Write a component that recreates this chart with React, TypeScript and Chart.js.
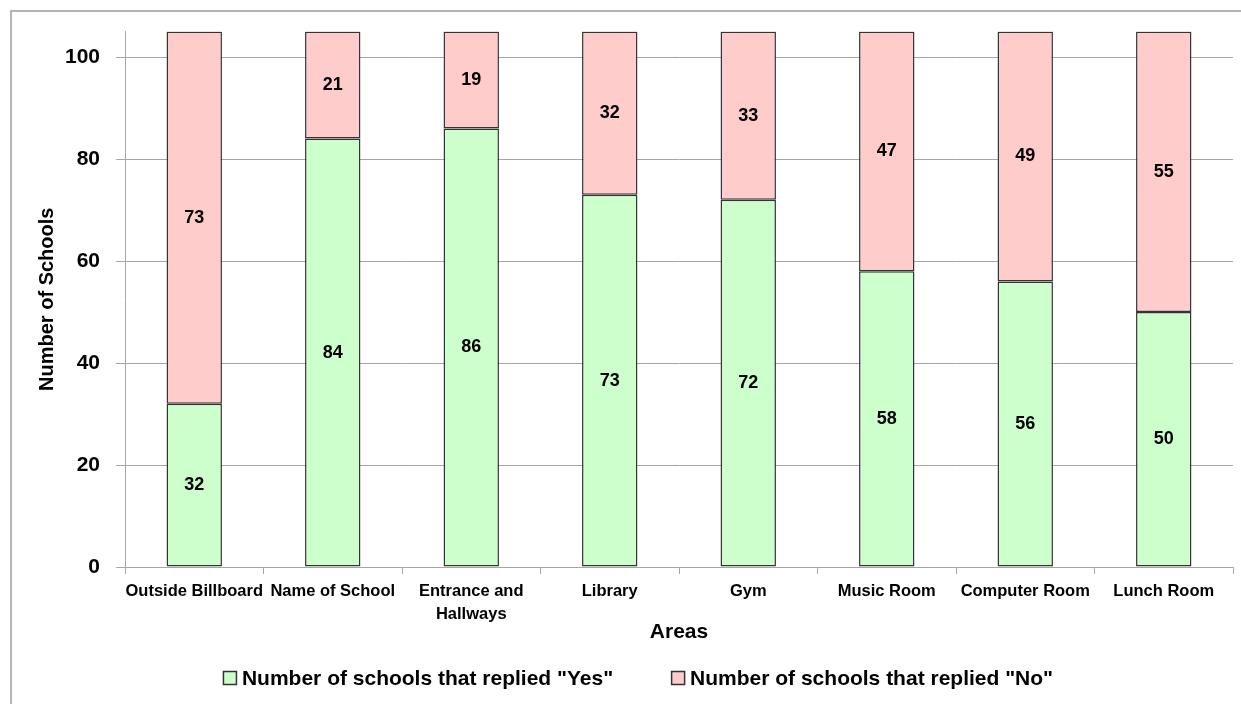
import React, { useEffect, useRef } from "react";
import { Chart, registerables } from "chart.js";

Chart.register(...registerables);

const categories: (string | string[])[] = [
  "Outside Billboard",
  "Name of School",
  ["Entrance and", "Hallways"],
  "Library",
  "Gym",
  "Music Room",
  "Computer Room",
  "Lunch Room",
];
const yesValues = [32, 84, 86, 73, 72, 58, 56, 50];
const noValues = [73, 21, 19, 32, 33, 47, 49, 55];
const yTickValues = [0, 20, 40, 60, 80, 100];
const seriesLabels = ['Number of schools that replied "Yes"', 'Number of schools that replied "No"'];
const xTitle = "Areas";
const yTitle = "Number of Schools";

const FONT = '"Liberation Sans", Arial, sans-serif';
const GREEN = "#CCFFCC";
const PINK = "#FFCCCC";
const BORDER = "#333333";
const GRID = "#a6a6a6";

const valueLabels = {
  id: "valueLabels",
  afterDatasetsDraw(chart: any) {
    const ctx = chart.ctx;
    ctx.save();
    ctx.font = `bold 18px ${FONT}`;
    ctx.fillStyle = "#000";
    ctx.textAlign = "center";
    ctx.textBaseline = "middle";
    chart.data.datasets.forEach((ds: any, i: number) => {
      const meta = chart.getDatasetMeta(i);
      meta.data.forEach((el: any, j: number) => {
        const { x, y, base } = el.getProps(["x", "y", "base"], true);
        ctx.fillText(String(ds.data[j]), x, (y + base) / 2);
      });
    });
    ctx.restore();
  },
};

const customLegend = {
  id: "customLegend",
  afterDraw(chart: any) {
    const ctx = chart.ctx;
    ctx.save();
    ctx.font = `bold 21px ${FONT}`;
    ctx.textBaseline = "middle";
    ctx.textAlign = "left";
    const box = 14;
    const textGap = 5;
    const itemGap = 58;
    const items = chart.data.datasets.map((ds: any) => ({
      label: ds.label,
      color: ds.backgroundColor,
      w: ctx.measureText(ds.label).width,
    }));
    const total =
      items.reduce((s: number, it: any) => s + box + textGap + it.w, 0) + itemGap * (items.length - 1);
    const cy = 678;
    let x = 638 - total / 2;
    items.forEach((it: any) => {
      ctx.fillStyle = it.color;
      ctx.fillRect(x + 0.5, cy - box / 2 + 0.5, box - 1, box - 1);
      ctx.strokeStyle = BORDER;
      ctx.lineWidth = 1.5;
      ctx.strokeRect(x + 0.5, cy - box / 2 + 0.5, box - 1, box - 1);
      ctx.fillStyle = "#000";
      ctx.fillText(it.label, x + box + textGap, cy + 1);
      x += box + textGap + it.w + itemGap;
    });
    ctx.restore();
  },
};

export default function App() {
  const ref = useRef<HTMLCanvasElement | null>(null);

  useEffect(() => {
    if (!ref.current) return;
    const chart = new Chart(ref.current, {
      type: "bar",
      data: {
        labels: categories as any,
        datasets: [
          {
            label: seriesLabels[0],
            data: yesValues,
            backgroundColor: GREEN,
            borderColor: BORDER,
            borderWidth: 1.5,
            borderSkipped: false,
            barPercentage: 0.4,
            categoryPercentage: 1,
          },
          {
            label: seriesLabels[1],
            data: noValues,
            backgroundColor: PINK,
            borderColor: BORDER,
            borderWidth: 1.5,
            borderSkipped: false,
            barPercentage: 0.4,
            categoryPercentage: 1,
          },
        ],
      },
      options: {
        responsive: false,
        animation: false,
        devicePixelRatio: 1,
        layout: { padding: { left: 0, right: 8, top: 31.5, bottom: 59 } },
        plugins: {
          legend: { display: false },
          tooltip: { enabled: false },
        },
        scales: {
          x: {
            stacked: true,
            grid: {
              offset: true,
              drawOnChartArea: false,
              drawTicks: true,
              tickLength: 7,
              color: GRID,
            },
            border: { color: GRID, width: 1 },
            ticks: {
              color: "#000",
              padding: 5,
              maxRotation: 0,
              autoSkip: false,
              font: { family: FONT, size: 16.5, weight: "bold", lineHeight: 1.45 },
            },
            title: {
              display: true,
              text: xTitle,
              color: "#000",
              font: { family: FONT, size: 21, weight: "bold", lineHeight: 1.2 },
              padding: { top: 0, bottom: 0 },
            },
            afterFit(scale: any) {
              scale.height = 78;
            },
          },
          y: {
            stacked: true,
            min: 0,
            max: 105,
            afterBuildTicks(scale: any) {
              scale.ticks = yTickValues.map((v) => ({ value: v }));
            },
            grid: {
              color: GRID,
              tickLength: 9,
              drawTicks: true,
            },
            border: { color: GRID, width: 1 },
            ticks: {
              color: "#000",
              padding: 16,
              font: { family: FONT, size: 21, weight: "bold" },
            },
            title: {
              display: true,
              text: yTitle,
              color: "#000",
              font: { family: FONT, size: 20, weight: "bold", lineHeight: 1.2 },
              padding: { top: 35, bottom: 0 },
            },
            afterFit(scale: any) {
              scale.width = 125;
            },
          },
        },
      },
      plugins: [valueLabels, customLegend],
    } as any);
    return () => chart.destroy();
  }, []);

  return (
    <div
      style={{
        position: "fixed",
        left: 0,
        top: 0,
        width: 1241,
        height: 704,
        overflow: "hidden",
        background: "#fff",
      }}
    >
      <div
        style={{
          position: "absolute",
          left: 10,
          top: 10,
          width: 1300,
          height: 800,
          border: "2px solid #b4b4b4",
        }}
      />
      <canvas ref={ref} width={1241} height={704} style={{ position: "absolute", left: 0, top: 0 }} />
    </div>
  );
}
